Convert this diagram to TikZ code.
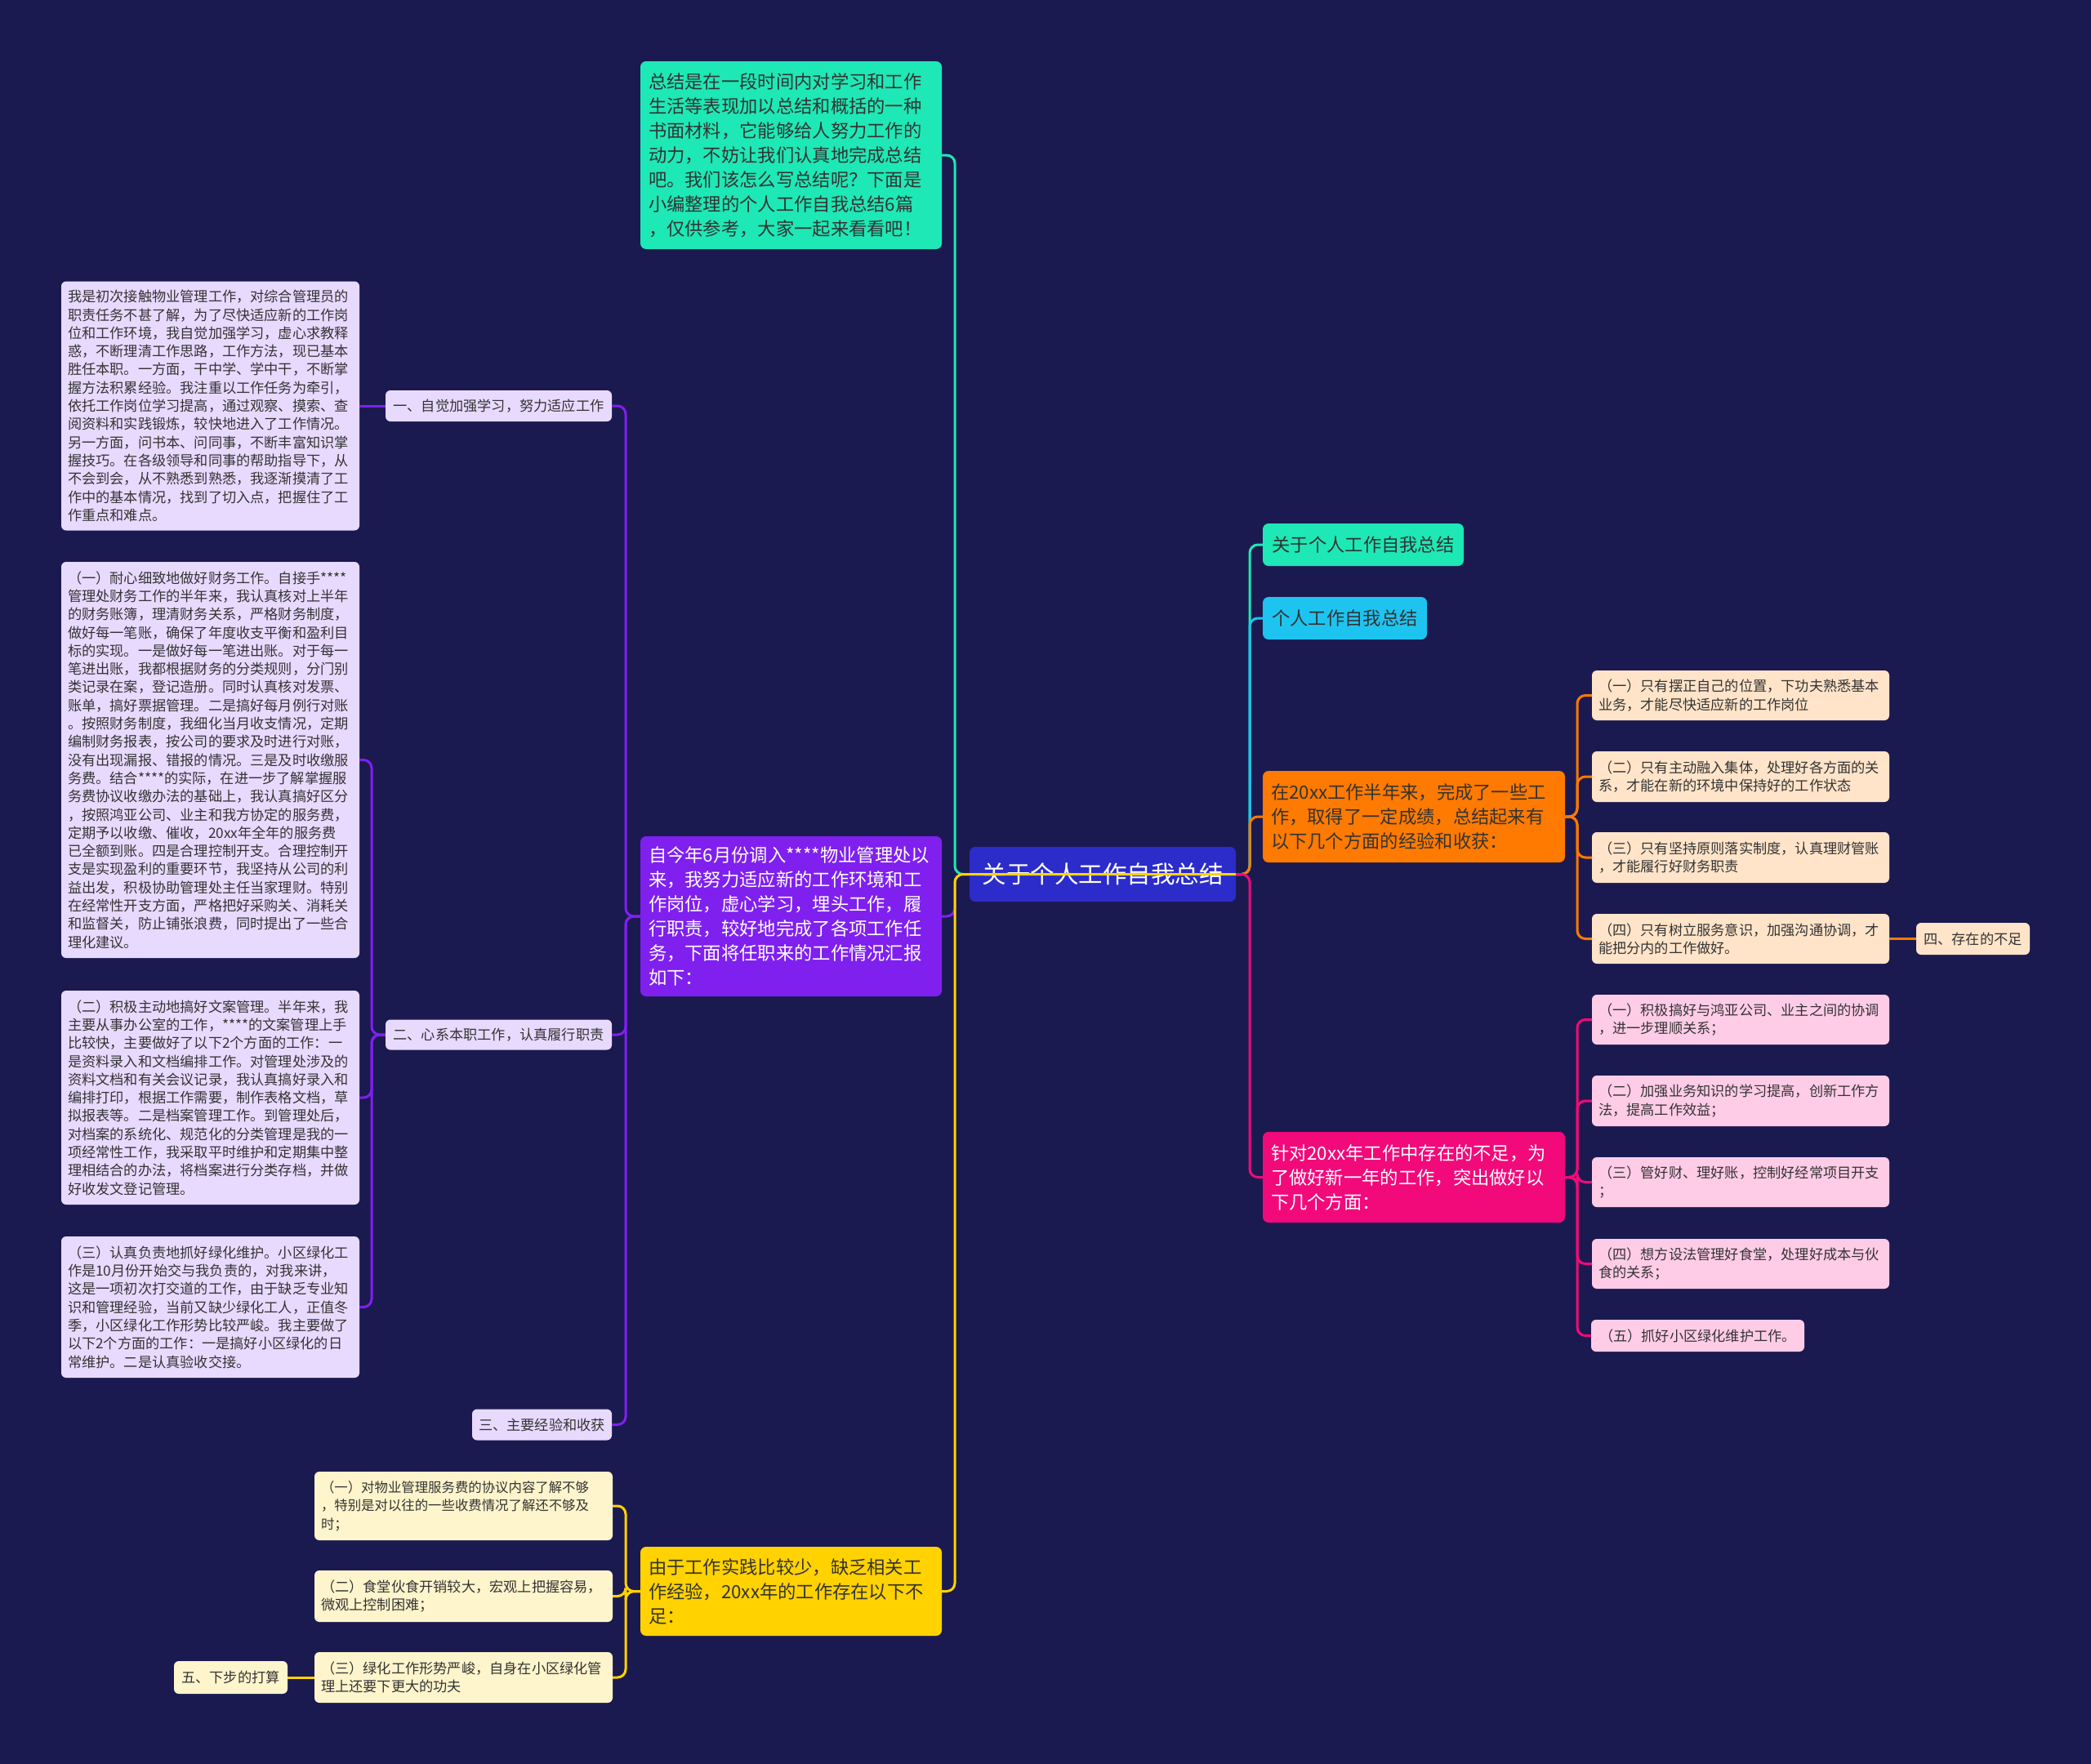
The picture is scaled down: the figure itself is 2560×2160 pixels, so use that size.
\documentclass[tikz,border=0pt]{standalone}
\usepackage{fontspec}
\setmainfont{Noto Sans CJK SC}
\usepackage{tikz}
\usetikzlibrary{positioning, calc}
\definecolor{bgnavy}{HTML}{1B1A50}
\definecolor{rootblue}{HTML}{2C2CCB}
\definecolor{mint}{HTML}{1EE8B5}
\definecolor{skyc}{HTML}{1EC4F0}
\definecolor{orng}{HTML}{FF7A00}
\definecolor{rose}{HTML}{F20A7A}
\definecolor{purp}{HTML}{7F20EF}
\definecolor{gold}{HTML}{FFD200}
\definecolor{lav}{HTML}{E8DAFF}
\definecolor{peach}{HTML}{FFE4C9}
\definecolor{blush}{HTML}{FFCCE8}
\definecolor{cream}{HTML}{FFF5CC}
\definecolor{inkdark}{HTML}{333333}

\begin{document}
\begin{tikzpicture}[
  x=1pt, y=-1pt,
  rootbox/.style={
    rectangle, rounded corners=7pt, fill=rootblue, text=white,
    minimum width=326pt, minimum height=67pt, inner sep=0pt,
    font=\fontsize{29.5}{34}\selectfont
  },
  topic/.style={
    rectangle, rounded corners=7pt, inner xsep=10pt, inner ysep=0pt,
    align=left, text=inkdark, font=\fontsize{22.3}{30}\selectfont
  },
  leaf/.style={
    rectangle, rounded corners=6pt, inner xsep=8pt, inner ysep=0pt,
    align=left, text=inkdark, font=\fontsize{17.2}{22.3}\selectfont
  },
  link/.style={line width=3pt, rounded corners=10pt},
]
  \useasboundingbox (0,0) rectangle (2560,2160);
  \fill[bgnavy] (0,0) rectangle (2560,2160);

  % trunks
  \coordinate (tL) at (1169,0);
  \coordinate (tR) at (1530,0);
  \coordinate (tP) at (766,0);
  \coordinate (tW) at (455,0);
  \coordinate (tO) at (1931,0);
  \coordinate (tY) at (766,0);

  \node[rootbox] (root) at (1350,1070.5) {关于个人工作自我总结};

  % left side
  \node[topic, fill=mint, text width=349pt, minimum height=230pt] (intro) at (968.5,190)
    {总结是在一段时间内对学习和工作\\生活等表现加以总结和概括的一种\\书面材料，它能够给人努力工作的\\动力，不妨让我们认真地完成总结\\吧。我们该怎么写总结呢？下面是\\小编整理的个人工作自我总结6篇\\，仅供参考，大家一起来看看吧！};
  \node[topic, fill=purp, text=white, text width=349pt, minimum height=196pt] (work) at (968.5,1122)
    {自今年6月份调入****物业管理处以\\来，我努力适应新的工作环境和工\\作岗位，虚心学习，埋头工作，履\\行职责，较好地完成了各项工作任\\务，下面将任职来的工作情况汇报\\如下：};
  \node[topic, fill=gold, text width=349pt, minimum height=109pt] (lack) at (968.5,1948.5)
    {由于工作实践比较少，缺乏相关工\\作经验，20xx年的工作存在以下不\\足：};

  \node[leaf, fill=lav, minimum width=277pt, minimum height=38pt] (p1) at (610.5,497) {一、自觉加强学习，努力适应工作};
  \node[leaf, fill=lav, minimum width=277pt, minimum height=37pt] (p2) at (610.5,1267) {二、心系本职工作，认真履行职责};
  \node[leaf, fill=lav, minimum width=171pt, minimum height=38pt] (p3) at (663.5,1744.5) {三、主要经验和收获};

  \node[leaf, fill=lav, text width=349pt, minimum height=305pt] (p1a) at (257.5,497)
    {我是初次接触物业管理工作，对综合管理员的\\职责任务不甚了解，为了尽快适应新的工作岗\\位和工作环境，我自觉加强学习，虚心求教释\\惑，不断理清工作思路，工作方法，现已基本\\胜任本职。一方面，干中学、学中干，不断掌\\握方法积累经验。我注重以工作任务为牵引，\\依托工作岗位学习提高，通过观察、摸索、查\\阅资料和实践锻炼，较快地进入了工作情况。\\另一方面，问书本、问同事，不断丰富知识掌\\握技巧。在各级领导和同事的帮助指导下，从\\不会到会，从不熟悉到熟悉，我逐渐摸清了工\\作中的基本情况，找到了切入点，把握住了工\\作重点和难点。};
  \node[leaf, fill=lav, text width=349pt, minimum height=485pt] (p2a) at (257.5,930.5)
    {（一）耐心细致地做好财务工作。自接手****\\管理处财务工作的半年来，我认真核对上半年\\的财务账簿，理清财务关系，严格财务制度，\\做好每一笔账，确保了年度收支平衡和盈利目\\标的实现。一是做好每一笔进出账。对于每一\\笔进出账，我都根据财务的分类规则，分门别\\类记录在案，登记造册。同时认真核对发票、\\账单，搞好票据管理。二是搞好每月例行对账\\。按照财务制度，我细化当月收支情况，定期\\编制财务报表，按公司的要求及时进行对账，\\没有出现漏报、错报的情况。三是及时收缴服\\务费。结合****的实际，在进一步了解掌握服\\务费协议收缴办法的基础上，我认真搞好区分\\，按照鸿亚公司、业主和我方协定的服务费，\\定期予以收缴、催收，20xx年全年的服务费\\已全额到账。四是合理控制开支。合理控制开\\支是实现盈利的重要环节，我坚持从公司的利\\益出发，积极协助管理处主任当家理财。特别\\在经常性开支方面，严格把好采购关、消耗关\\和监督关，防止铺张浪费，同时提出了一些合\\理化建议。};
  \node[leaf, fill=lav, text width=349pt, minimum height=262pt] (p2b) at (257.5,1344)
    {（二）积极主动地搞好文案管理。半年来，我\\主要从事办公室的工作，****的文案管理上手\\比较快，主要做好了以下2个方面的工作：一\\是资料录入和文档编排工作。对管理处涉及的\\资料文档和有关会议记录，我认真搞好录入和\\编排打印，根据工作需要，制作表格文档，草\\拟报表等。二是档案管理工作。到管理处后，\\对档案的系统化、规范化的分类管理是我的一\\项经常性工作，我采取平时维护和定期集中整\\理相结合的办法，将档案进行分类存档，并做\\好收发文登记管理。};
  \node[leaf, fill=lav, text width=349pt, minimum height=173pt] (p2c) at (257.5,1600.5)
    {（三）认真负责地抓好绿化维护。小区绿化工\\作是10月份开始交与我负责的，对我来讲，\\这是一项初次打交道的工作，由于缺乏专业知\\识和管理经验，当前又缺少绿化工人，正值冬\\季，小区绿化工作形势比较严峻。我主要做了\\以下2个方面的工作：一是搞好小区绿化的日\\常维护。二是认真验收交接。};

  \node[leaf, fill=cream, text width=349pt, minimum height=84pt, font=\fontsize{16.4}{22.3}\selectfont] (y1) at (567.5,1844)
    {（一）对物业管理服务费的协议内容了解不够\\，特别是对以往的一些收费情况了解还不够及\\时；};
  \node[leaf, fill=cream, text width=349pt, minimum height=63pt] (y2) at (567.5,1954.5)
    {（二）食堂伙食开销较大，宏观上把握容易，\\微观上控制困难；};
  \node[leaf, fill=cream, text width=349pt, minimum height=62pt] (y3) at (567.5,2054)
    {（三）绿化工作形势严峻，自身在小区绿化管\\理上还要下更大的功夫};
  \node[leaf, fill=cream, minimum width=139pt, minimum height=40pt] (y4) at (282.5,2054) {五、下步的打算};

  % right side
  \node[topic, fill=mint, minimum width=246pt, minimum height=52pt] (about) at (1669,667) {关于个人工作自我总结};
  \node[topic, fill=skyc, minimum width=201pt, minimum height=52pt] (self) at (1646.5,757) {个人工作自我总结};
  \node[topic, fill=orng, text width=350pt, minimum height=112pt] (gain) at (1731,1000)
    {在20xx工作半年来，完成了一些工\\作，取得了一定成绩，总结起来有\\以下几个方面的经验和收获：};
  \node[topic, fill=rose, text=white, text width=350pt, minimum height=111pt] (plan) at (1731,1441.5)
    {针对20xx年工作中存在的不足，为\\了做好新一年的工作，突出做好以\\下几个方面：};

  \node[leaf, fill=peach, text width=348pt, minimum height=61pt] (g1) at (2131,851.5)
    {（一）只有摆正自己的位置，下功夫熟悉基本\\业务，才能尽快适应新的工作岗位};
  \node[leaf, fill=peach, text width=348pt, minimum height=62pt] (g2) at (2131,951)
    {（二）只有主动融入集体，处理好各方面的关\\系，才能在新的环境中保持好的工作状态};
  \node[leaf, fill=peach, text width=348pt, minimum height=62pt] (g3) at (2131,1050)
    {（三）只有坚持原则落实制度，认真理财管账\\，才能履行好财务职责};
  \node[leaf, fill=peach, text width=348pt, minimum height=61pt] (g4) at (2131,1149.5)
    {（四）只有树立服务意识，加强沟通协调，才\\能把分内的工作做好。};
  \node[leaf, fill=peach, minimum width=139pt, minimum height=39pt] (g5) at (2415.5,1149.5) {四、存在的不足};

  \node[leaf, fill=blush, text width=348pt, minimum height=61pt] (r1) at (2131,1248.5)
    {（一）积极搞好与鸿亚公司、业主之间的协调\\，进一步理顺关系；};
  \node[leaf, fill=blush, text width=348pt, minimum height=62pt] (r2) at (2131,1348)
    {（二）加强业务知识的学习提高，创新工作方\\法，提高工作效益；};
  \node[leaf, fill=blush, text width=348pt, minimum height=61pt] (r3) at (2131,1447.5)
    {（三）管好财、理好账，控制好经常项目开支\\；};
  \node[leaf, fill=blush, text width=348pt, minimum height=61pt] (r4) at (2131,1547.5)
    {（四）想方设法管理好食堂，处理好成本与伙\\食的关系；};
  \node[leaf, fill=blush, minimum width=261pt, minimum height=39pt] (r5) at (2078.5,1635.5) {（五）抓好小区绿化维护工作。};

  % connectors
  \draw[link, mint] (root.west) -- (root.west -| tL) |- (intro.east);
  \draw[link, purp] (root.west) -- (root.west -| tL) |- (work.east);
  \draw[link, gold] (root.east) -- (root.west -| tL) |- (lack.east);

  \draw[link, mint] (root.east) -- (root.east -| tR) |- (about.west);
  \draw[link, skyc] (root.east) -- (root.east -| tR) |- (self.west);
  \draw[link, orng] (root.east) -- (root.east -| tR) |- (gain.west);
  \draw[link, rose] (root.east) -- (root.east -| tR) |- (plan.west);

  \foreach \kid in {p1, p2, p3}
    \draw[link, purp] (work.west) -- (work.west -| tP) |- (\kid.east);
  \draw[link, purp] (p1.west) -- (p1a.east);
  \foreach \kid in {p2a, p2b, p2c}
    \draw[link, purp] (p2.west) -- (p2.west -| tW) |- (\kid.east);

  \foreach \kid in {y1, y2, y3}
    \draw[link, gold] (lack.west) -- (lack.west -| tY) |- (\kid.east);
  \draw[link, gold] (y3.west) -- (y4.east);

  \foreach \kid in {g1, g2, g3, g4}
    \draw[link, orng] (gain.east) -- (gain.east -| tO) |- (\kid.west);
  \draw[link, orng] (g4.east) -- (g5.west);

  \foreach \kid in {r1, r2, r3, r4, r5}
    \draw[link, rose] (plan.east) -- (plan.east -| tO) |- (\kid.west);
\end{tikzpicture}
\end{document}
